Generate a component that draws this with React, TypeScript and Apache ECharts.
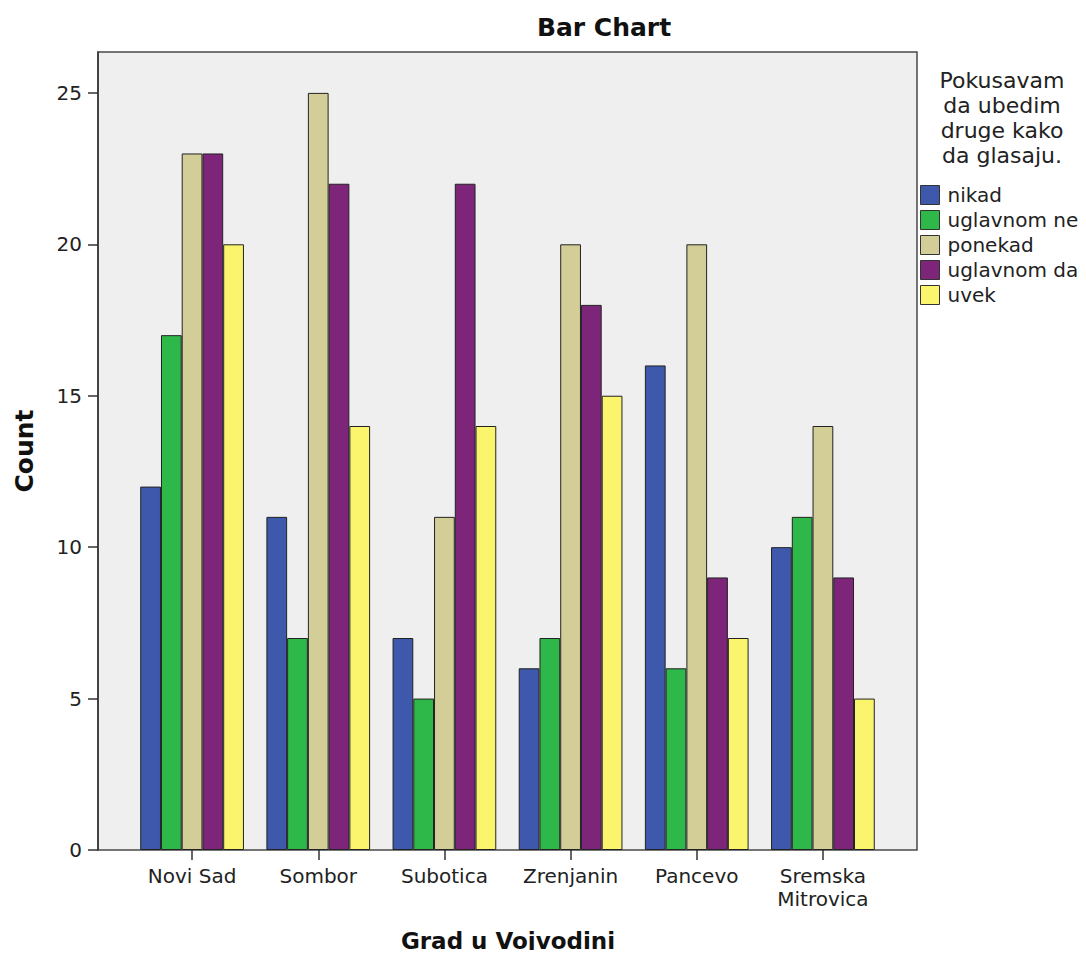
import React, { useEffect, useRef } from "react";
import * as echarts from "echarts";

const cities = ["Novi Sad", "Sombor", "Subotica", "Zrenjanin", "Pancevo", "Sremska\nMitrovica"];
const seriesNames = ["nikad", "uglavnom ne", "ponekad", "uglavnom da", "uvek"];
const nikad = [12, 11, 7, 6, 16, 10];
const uglavnomNe = [17, 7, 5, 7, 6, 11];
const ponekad = [23, 25, 11, 20, 20, 14];
const uglavnomDa = [23, 22, 22, 18, 9, 9];
const uvek = [20, 14, 14, 15, 7, 5];
const colors = ["#3e58ac", "#2fb84a", "#d3ce97", "#7d2579", "#fbf56e"];
const yMax = 26.35;
const legendTitle = ["Pokusavam", "da ubedim", "druge kako", "da glasaju."];

const FONT = "DejaVu Sans";

export default function App() {
  const ref = useRef<HTMLDivElement>(null);
  useEffect(() => {
    if (!ref.current) return;
    const chart = echarts.init(ref.current, null, { renderer: "svg" });
    const values = [nikad, uglavnomNe, ponekad, uglavnomDa, uvek];
    const option: any = {
      animation: false,
      textStyle: { fontFamily: FONT },
      grid: [
        {
          left: 98, top: 52, width: 819, height: 798, show: true, containLabel: false,
          outerBoundsMode: "none",
          backgroundColor: "#efefef", borderColor: "#4a4a4a", borderWidth: 1.5,
        },
        { left: 129, top: 52, width: 757, height: 798, show: false, containLabel: false, outerBoundsMode: "none" },
      ],
      xAxis: [
        { gridIndex: 0, type: "value", min: 0, max: 1, show: false },
        {
          gridIndex: 1, type: "category", data: cities,
          axisLine: { show: false },
          axisTick: { show: true, alignWithLabel: true, length: 10, lineStyle: { color: "#333", width: 1.5 } },
          axisLabel: { fontSize: 20, color: "#222", margin: 14, lineHeight: 23, fontFamily: FONT },
        },
      ],
      yAxis: [
        {
          gridIndex: 0, type: "value", min: 0, max: yMax, interval: 5,
          axisLine: { show: true, lineStyle: { color: "#333", width: 1.5 } },
          axisTick: { show: true, length: 10, lineStyle: { color: "#333", width: 1.5 } },
          axisLabel: { fontSize: 20, color: "#222", margin: 16, fontFamily: FONT, showMaxLabel: false },
          splitLine: { show: false },
        },
        { gridIndex: 1, type: "value", min: 0, max: yMax, show: false },
      ],
      legend: {
        orient: "vertical", left: 920, top: 185, padding: 0,
        itemWidth: 19, itemHeight: 19, itemGap: 5, icon: "rect",
        data: seriesNames,
        itemStyle: { borderColor: "#333", borderWidth: 1 },
        textStyle: { fontSize: 20, lineHeight: 19, color: "#222", fontFamily: FONT, padding: [0, 0, 0, 3] },
      },
      graphic: [
        {
          type: "text", x: 604, y: 15,
          style: { text: "Bar Chart", font: `bold 25px "${FONT}"`, fill: "#111", textAlign: "center", textVerticalAlign: "top" },
        },
        {
          type: "text", x: 24, y: 451, rotation: Math.PI / 2,
          style: { text: "Count", font: `bold 25px "${FONT}"`, fill: "#111", textAlign: "center", textVerticalAlign: "middle" },
        },
        {
          type: "text", x: 508, y: 941,
          style: { text: "Grad u Vojvodini", font: `bold 23px "${FONT}"`, fill: "#111", textAlign: "center", textVerticalAlign: "middle" },
        },
        ...legendTitle.map((line, i) => ({
          type: "text", x: 1002, y: 80 + i * 25,
          style: { text: line, font: `22px "${FONT}"`, fill: "#222", textAlign: "center", textVerticalAlign: "middle" },
        })),
      ],
      series: seriesNames.map((name, i) => ({
        name, type: "bar", xAxisIndex: 1, yAxisIndex: 1,
        data: values[i],
        barGap: "0%", barCategoryGap: "17.8%",
        itemStyle: { color: colors[i], borderColor: "#222", borderWidth: 1 },
      })),
    };
    chart.setOption(option);
    return () => chart.dispose();
  }, []);
  return <div ref={ref} style={{ width: 1086, height: 958, margin: -8 }} />;
}
